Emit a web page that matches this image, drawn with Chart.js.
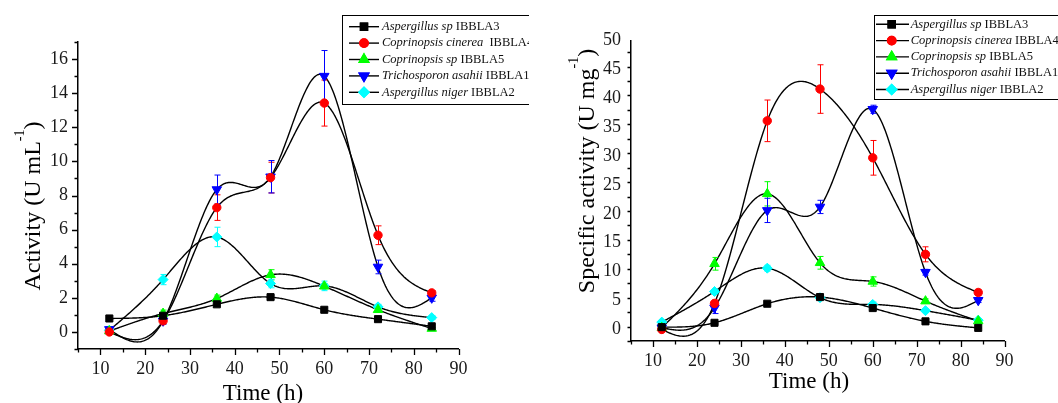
<!DOCTYPE html>
<html>
<head>
<meta charset="utf-8">
<script src="https://cdn.jsdelivr.net/npm/chart.js@4.4.1/dist/chart.umd.min.js"></script>
<style>
  body { margin: 0; background: #fff; }
  #wrap { position: relative; width: 1058px; height: 403px; }
  canvas { position: absolute; top: 0; }
</style>
</head>
<body>
<div id="wrap">
  <canvas id="activity" width="529" height="403" style="left:0"></canvas>
  <canvas id="specific" width="529" height="403" style="left:529px"></canvas>
</div>
<script>
const times = [12, 24, 36, 48, 60, 72, 84]
const species = ['Aspergillus sp', 'Coprinopsis cinerea', 'Coprinopsis sp', 'Trichosporon asahii', 'Aspergillus niger']
const strains = ['IBBLA3', 'IBBLA4', 'IBBLA5', 'IBBLA1', 'IBBLA2']

const xTicks = [10, 20, 30, 40, 50, 60, 70, 80, 90]
const yTicksActivity = [0, 2, 4, 6, 8, 10, 12, 14, 16]
const yTicksSpecific = [0, 5, 10, 15, 20, 25, 30, 35, 40, 45, 50]

// activity (U mL-1)
const actIBBLA3 = [0.79, 0.95, 1.62, 2.04, 1.3, 0.75, 0.33]
const actIBBLA4 = [0.0, 0.65, 7.29, 9.05, 13.42, 5.67, 2.29]
const actIBBLA5 = [0.05, 1.08, 1.96, 3.35, 2.68, 1.3, 0.2]
const actIBBLA1 = [0.15, 0.65, 8.35, 9.1, 15.0, 3.81, 2.0]
const actIBBLA2 = [0.1, 3.07, 5.57, 2.84, 2.7, 1.47, 0.84]

const actErrIBBLA3 = [0.05, 0.1, 0.1, 0.12, 0.1, 0.1, 0.08]
const actErrIBBLA4 = [0.05, 0.15, 0.75, 0.9, 1.35, 0.55, 0.12]
const actErrIBBLA5 = [0.05, 0.2, 0.2, 0.3, 0.15, 0.15, 0.1]
const actErrIBBLA1 = [0.15, 0.2, 0.85, 0.95, 1.5, 0.4, 0.2]
const actErrIBBLA2 = [0.1, 0.3, 0.57, 0.25, 0.28, 0.15, 0.1]

// specific activity (U mg-1)
const specIBBLA3 = [0.4, 1.15, 4.45, 5.6, 3.7, 1.4, 0.27]
const specIBBLA4 = [0.0, 4.5, 36.1, 41.6, 29.7, 13.0, 6.4]
const specIBBLA5 = [0.3, 11.36, 23.47, 11.53, 8.3, 4.9, 1.45]
const specIBBLA1 = [0.3, 3.75, 20.6, 21.2, 38.1, 9.9, 5.05]
const specIBBLA2 = [1.27, 6.57, 10.6, 5.5, 4.33, 3.25, 1.6]

const specErrIBBLA3 = [0.1, 0.2, 0.3, 0.3, 0.4, 0.2, 0.1]
const specErrIBBLA4 = [0.3, 0.6, 3.6, 4.2, 3.0, 1.3, 0.5]
const specErrIBBLA5 = [0.2, 1.1, 2.1, 1.1, 0.8, 0.4, 0.3]
const specErrIBBLA1 = [0.2, 1.0, 2.1, 1.15, 0.7, 0.5, 0.4]
const specErrIBBLA2 = [0.2, 0.4, 0.5, 0.4, 0.4, 0.3, 0.2]

const serif = '"Liberation Serif", "Times New Roman", serif'
const colors = ['#000000', '#ff0000', '#00ff00', '#0000ff', '#00ffff']
const markers = [
  { style: 'rect', radius: 5, rotation: 0 },
  { style: 'circle', radius: 4.2, rotation: 0 },
  { style: 'triangle', radius: 5.5, rotation: 0 },
  { style: 'triangle', radius: 5.5, rotation: 180 },
  { style: 'rectRot', radius: 5, rotation: 0 }
]

function naturalSpline(xs, ys) {
  const n = xs.length
  const m = new Array(n).fill(0)
  const a = [], b = [], c = [], d = []
  for (let i = 1; i < n - 1; i++) {
    const h0 = xs[i] - xs[i - 1], h1 = xs[i + 1] - xs[i]
    a[i] = h0
    b[i] = 2 * (h0 + h1)
    c[i] = h1
    d[i] = 6 * ((ys[i + 1] - ys[i]) / h1 - (ys[i] - ys[i - 1]) / h0)
  }
  for (let i = 2; i < n - 1; i++) {
    const w = a[i] / b[i - 1]
    b[i] -= w * c[i - 1]
    d[i] -= w * d[i - 1]
  }
  for (let i = n - 2; i >= 1; i--) {
    m[i] = (d[i] - c[i] * m[i + 1]) / b[i]
  }
  return x => {
    let i = 0
    while (i < n - 2 && x > xs[i + 1]) i++
    const h = xs[i + 1] - xs[i]
    const t1 = xs[i + 1] - x, t0 = x - xs[i]
    return m[i] * t1 * t1 * t1 / (6 * h) + m[i + 1] * t0 * t0 * t0 / (6 * h) +
      (ys[i] / h - m[i] * h / 6) * t1 + (ys[i + 1] / h - m[i + 1] * h / 6) * t0
  }
}

const curvesPlugin = {
  id: 'curves',
  beforeDatasetsDraw(chart) {
    const ctx = chart.ctx
    const sx = chart.scales.x, sy = chart.scales.y
    ctx.save()
    chart.data.datasets.forEach(ds => {
      const f = naturalSpline(times, ds.data.map(p => p.y))
      ctx.beginPath()
      ctx.strokeStyle = '#000'
      ctx.lineWidth = 1.4
      const x0 = times[0], x1 = times[times.length - 1]
      for (let k = 0; k <= 300; k++) {
        const t = x0 + (x1 - x0) * k / 300
        const px = sx.getPixelForValue(t), py = sy.getPixelForValue(f(t))
        if (k === 0) ctx.moveTo(px, py)
        else ctx.lineTo(px, py)
      }
      ctx.stroke()
    })
    chart.data.datasets.forEach(ds => {
      ctx.strokeStyle = ds.borderColor
      ctx.lineWidth = 1
      ds.data.forEach((p, i) => {
        const e = ds.err[i]
        const px = Math.round(sx.getPixelForValue(p.x)) + 0.5
        const top = sy.getPixelForValue(p.y + e), bot = sy.getPixelForValue(p.y - e)
        ctx.beginPath()
        ctx.moveTo(px, top); ctx.lineTo(px, bot)
        ctx.moveTo(px - 3, top); ctx.lineTo(px + 3, top)
        ctx.moveTo(px - 3, bot); ctx.lineTo(px + 3, bot)
        ctx.stroke()
      })
    })
    ctx.restore()
  }
}

function drawMarker(ctx, i, x, y) {
  Chart.helpers.drawPoint(ctx, {
    pointStyle: markers[i].style,
    radius: markers[i].radius,
    rotation: markers[i].rotation,
    borderWidth: 1
  }, x, y)
  ctx.fill()
  ctx.stroke()
}

// text with a small raised "-1", rotated when vertical
function drawTitle(ctx, t, x, y, vertical) {
  ctx.save()
  ctx.translate(x, y)
  if (vertical) ctx.rotate(-Math.PI / 2)
  ctx.fillStyle = '#000'
  ctx.textBaseline = 'alphabetic'
  ctx.textAlign = 'left'
  const big = t.size + 'px ' + serif, small = t.supSize + 'px ' + serif
  ctx.font = big
  const w1 = ctx.measureText(t.main).width
  const w3 = t.end ? ctx.measureText(t.end).width : 0
  ctx.font = small
  const w2 = t.sup ? ctx.measureText(t.sup).width : 0
  let cx = -(w1 + w2 + w3) / 2
  ctx.font = big
  ctx.fillText(t.main, cx, 0)
  cx += w1
  if (t.sup) {
    ctx.font = small
    ctx.fillText(t.sup, cx, -t.raise)
    cx += w2
  }
  if (t.end) {
    ctx.font = big
    ctx.fillText(t.end, cx, 0)
  }
  ctx.restore()
}

const ticksLegendPlugin = {
  id: 'ticksLegend',
  afterDraw(chart, args, opts) {
    const ctx = chart.ctx
    const sx = chart.scales.x, sy = chart.scales.y
    ctx.save()
    ctx.strokeStyle = '#000'
    ctx.lineWidth = 1.3
    ctx.beginPath()
    for (let v = sx.min; v <= sx.max; v += 5) {
      const px = Math.round(sx.getPixelForValue(v)) + 0.5
      const len = v % 10 === 0 ? 6 : 3.5
      ctx.moveTo(px, sx.top); ctx.lineTo(px, sx.top + len)
    }
    for (let v = sy.min; v <= sy.max + 0.001; v += opts.minorStep) {
      const py = Math.round(sy.getPixelForValue(v)) + 0.5
      const major = Math.abs(v / opts.majorStep - Math.round(v / opts.majorStep)) < 0.001
      const len = major ? 6 : 3.5
      ctx.moveTo(sy.right, py); ctx.lineTo(sy.right - len, py)
    }
    ctx.stroke()

    drawTitle(ctx, opts.xTitle, opts.xTitle.x, opts.xTitle.y, false)
    drawTitle(ctx, opts.yTitle, opts.yTitle.x, opts.yTitle.y, true)

    // legend
    const b = opts.legend
    ctx.fillStyle = '#fff'
    ctx.fillRect(b.x, b.y, b.w, b.h)
    ctx.lineWidth = 1
    ctx.strokeStyle = '#000'
    ctx.strokeRect(b.x + 0.5, b.y + 0.5, b.w, b.h)
    ctx.textBaseline = 'middle'
    species.forEach((name, i) => {
      const ry = b.y + b.first + i * b.gap
      ctx.strokeStyle = '#000'
      ctx.lineWidth = 1.4
      ctx.beginPath()
      ctx.moveTo(b.x + b.line[0], ry); ctx.lineTo(b.x + b.line[1], ry)
      ctx.stroke()
      ctx.fillStyle = colors[i]
      ctx.strokeStyle = colors[i]
      drawMarker(ctx, i, b.x + b.marker, ry)
      ctx.fillStyle = '#111'
      ctx.font = 'italic 12.5px ' + serif
      const tx = b.x + b.text
      ctx.fillText(name, tx, ry)
      const w = ctx.measureText(name + ' ').width + (b.extra[i] || 0)
      ctx.font = '12.5px ' + serif
      ctx.fillText(strains[i], tx + w, ry)
    })
    ctx.restore()
  }
}

function buildChart(id, series, errs, yTicks, cfg) {
  new Chart(document.getElementById(id), {
    type: 'scatter',
    data: {
      datasets: series.map((vals, i) => ({
        label: species[i] + ' ' + strains[i],
        data: vals.map((v, k) => ({ x: times[k], y: v })),
        err: errs[i],
        showLine: false,
        backgroundColor: colors[i],
        borderColor: colors[i],
        pointStyle: markers[i].style,
        pointRadius: markers[i].radius,
        pointRotation: markers[i].rotation,
        pointBorderWidth: 1
      }))
    },
    options: {
      responsive: false,
      animation: false,
      events: [],
      layout: { padding: cfg.padding },
      plugins: {
        legend: { display: false },
        tooltip: { enabled: false },
        ticksLegend: cfg.marks
      },
      scales: {
        x: {
          type: 'linear', min: 5, max: 90,
          afterBuildTicks: s => { s.ticks = xTicks.map(v => ({ value: v })) },
          afterFit: s => { s.height = cfg.xHeight },
          grid: { display: false, drawTicks: false },
          border: { display: true, color: '#000', width: 1.5 },
          ticks: { color: '#1a1a1a', padding: 9, autoSkip: false, maxRotation: 0, font: { family: serif, size: 18 } }
        },
        y: {
          type: 'linear', min: cfg.yMin, max: cfg.yMax,
          afterBuildTicks: s => { s.ticks = yTicks.map(v => ({ value: v })) },
          afterFit: s => { s.width = cfg.yWidth },
          grid: { display: false, drawTicks: false },
          border: { display: true, color: '#000', width: 1.5 },
          ticks: { color: '#1a1a1a', padding: 10, autoSkip: false, font: { family: serif, size: 18 } }
        }
      }
    },
    plugins: [curvesPlugin, ticksLegendPlugin]
  })
}

buildChart('activity',
  [actIBBLA3, actIBBLA4, actIBBLA5, actIBBLA1, actIBBLA2],
  [actErrIBBLA3, actErrIBBLA4, actErrIBBLA5, actErrIBBLA1, actErrIBBLA2],
  yTicksActivity,
  {
    padding: { left: 19, top: 42, right: 70.4, bottom: 0 },
    xHeight: 54, yWidth: 59, yMin: -1, yMax: 17,
    marks: {
      minorStep: 1, majorStep: 2,
      xTitle: { main: 'Time (h)', size: 23, x: 263, y: 400 },
      yTitle: { main: 'Activity (U mL', sup: '-1', end: ')', size: 24, supSize: 14, raise: 16, x: 40, y: 206 },
      legend: { x: 342, y: 15, w: 300, h: 89, first: 11.7, gap: 16.4, line: [7, 37], marker: 22, text: 40, extra: [0, 3, 0, 0, 0] }
    }
  })

buildChart('specific',
  [specIBBLA3, specIBBLA4, specIBBLA5, specIBBLA1, specIBBLA2],
  [specErrIBBLA3, specErrIBBLA4, specErrIBBLA5, specErrIBBLA1, specErrIBBLA2],
  yTicksSpecific,
  {
    padding: { left: 46, top: 40.5, right: 53.4, bottom: 12 },
    xHeight: 50, yWidth: 56, yMin: -2, yMax: 50,
    marks: {
      minorStep: 2.5, majorStep: 5,
      xTitle: { main: 'Time (h)', size: 23, x: 280, y: 388 },
      yTitle: { main: 'Specific activity (U mg', sup: '-1', end: ')', size: 24, supSize: 14, raise: 16, x: 65, y: 171 },
      legend: { x: 345, y: 15, w: 300, h: 84, first: 9.3, gap: 16.3, line: [2, 35], marker: 17.7, text: 36.7, extra: [0, 0, 0, 0, 0] }
    }
  })
</script>
</body>
</html>
